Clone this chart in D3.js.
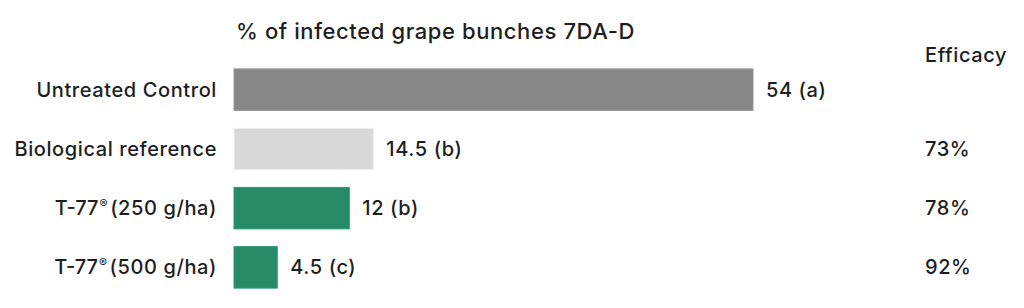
<!DOCTYPE html>
<html>
<head>
<meta charset="utf-8">
<script src="https://cdn.jsdelivr.net/npm/d3@7"></script>
<style>
  body { margin: 0; background: #fff; }
  text { font-family: Inter, "Noto Sans", sans-serif; fill: #1e1e1e; font-weight: 500; letter-spacing: 0.6px; }
</style>
</head>
<body>
<div id="chart"></div>
<script>
// --- data ---
const treatments = ["Untreated Control", "Biological reference", "T-77 (250 g/ha)", "T-77 (500 g/ha)"];
const infected = [54, 14.5, 12, 4.5];
const groups = ["a", "b", "b", "c"];
const efficacy = [null, "73%", "78%", "92%"];
const barColors = ["#878787", "#d9d9d9", "#268a66", "#268a66"];

const width = 1024, height = 308;

const svg = d3.select("#chart").append("svg")
    .attr("width", width).attr("height", height);

const x = d3.scaleLinear().domain([0, 54]).range([234, 753]);
const y = d3.scaleBand().domain(treatments).range([60, 297]).paddingInner(0.3).paddingOuter(0.15);

const rows = treatments.map((t, i) => ({ t, v: infected[i], g: groups[i], e: efficacy[i], c: barColors[i] }));

// title
svg.append("text")
    .attr("x", 236).attr("y", 39)
    .attr("font-size", 22)
    .text("% of infected grape bunches 7DA-D");

svg.append("text")
    .attr("x", 925).attr("y", 62)
    .attr("font-size", 20)
    .text("Efficacy");

// bars
svg.selectAll(".bar").data(rows).enter().append("rect")
    .attr("class", "bar")
    .attr("x", x(0))
    .attr("y", d => y(d.t))
    .attr("width", d => x(d.v) - x(0))
    .attr("height", y.bandwidth())
    .attr("fill", d => d.c)
    .attr("stroke", d => d3.color(d.c).brighter(0.3))
    .attr("stroke-width", 1);

// category labels (T-77 gets a superscript ®)
const cat = svg.selectAll(".cat").data(rows).enter().append("text")
    .attr("class", "cat")
    .attr("x", 217)
    .attr("y", d => y(d.t) + y.bandwidth() / 2)
    .attr("dy", "0.35em")
    .attr("text-anchor", "end")
    .attr("font-size", 20);
cat.each(function(d) {
    const el = d3.select(this);
    if (d.t.startsWith("T-77")) {
        el.append("tspan").style("letter-spacing", "0px").text("T-77");
        el.append("tspan").attr("font-size", 12).attr("dy", "-0.6em").attr("dx", 1).text("®");
        el.append("tspan").attr("dy", "0.36em").attr("dx", 2).text(d.t.slice(5));
    } else {
        el.text(d.t);
    }
});

// value labels
svg.selectAll(".val").data(rows).enter().append("text")
    .attr("class", "val")
    .attr("x", d => x(d.v) + 13)
    .attr("y", d => y(d.t) + y.bandwidth() / 2)
    .attr("dy", "0.35em")
    .attr("font-size", 20)
    .text(d => `${d.v} (${d.g})`);

// efficacy values
svg.selectAll(".eff").data(rows.filter(d => d.e)).enter().append("text")
    .attr("class", "eff")
    .attr("x", 925)
    .attr("y", d => y(d.t) + y.bandwidth() / 2)
    .attr("dy", "0.35em")
    .attr("font-size", 20)
    .text(d => d.e);
</script>
</body>
</html>
